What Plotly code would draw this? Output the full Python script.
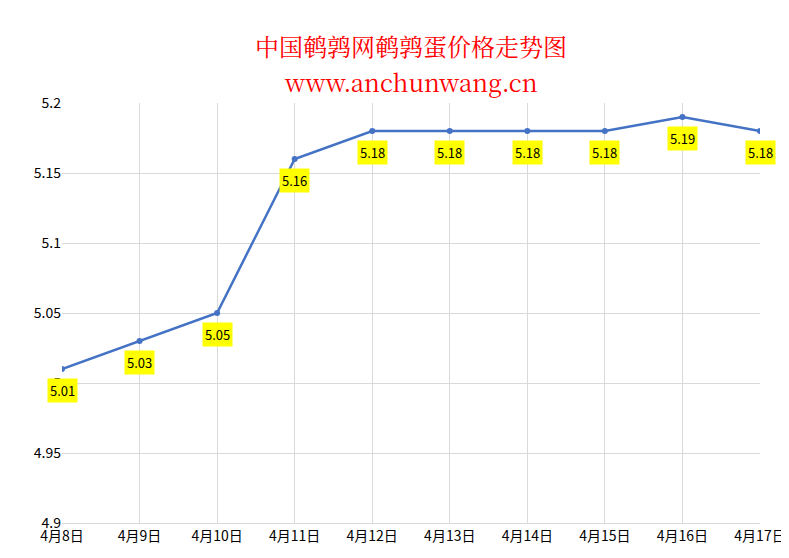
import plotly.graph_objects as go

dates = ["4月8日","4月9日","4月10日","4月11日","4月12日","4月13日","4月14日","4月15日","4月16日","4月17日"]
prices = [5.01,5.03,5.05,5.16,5.18,5.18,5.18,5.18,5.19,5.18]
yticks = [4.9,4.95,5,5.05,5.1,5.15,5.2]
ytick_text = ["4.9","4.95","5","5.05","5.1","5.15","5.2"]
title_lines = ["中国鹌鹑网鹌鹑蛋价格走势图", "www.anchunwang.cn"]

fig = go.Figure(go.Scatter(x=dates, y=prices, mode="lines+markers",
    line=dict(color="#4472C4", width=2.5), marker=dict(size=6, color="#4472C4")))

for d, p in zip(dates, prices):
    fig.add_annotation(x=d, y=p, text=f"{p:.2f}", showarrow=False, yshift=-21,
        bgcolor="#FFFF00", font=dict(size=13, color="#000", family="Noto Sans CJK SC"), borderpad=2)

serif = "Noto Serif CJK SC, Liberation Serif, serif"
fig.add_annotation(xref="paper", yref="paper", x=0.5, y=1, yshift=77, text=title_lines[0],
    showarrow=False, font=dict(size=24, color="#FF0000", family=serif))
fig.add_annotation(xref="paper", yref="paper", x=0.5, y=1, yshift=41, text=title_lines[1],
    showarrow=False, font=dict(size=24, color="#FF0000", family=serif))

fig.update_layout(
    width=789, height=558, paper_bgcolor="white", plot_bgcolor="white",
    margin=dict(l=54, r=37, t=95, b=43, autoexpand=False), showlegend=False,
    xaxis=dict(type="category", range=[0, 9], showgrid=True, gridcolor="#D9D9D9", automargin=False,
               showline=True, linecolor="#D9D9D9", ticks="", tickfont=dict(size=14, color="#000", family="Noto Sans CJK SC")),
    yaxis=dict(range=[4.9, 5.2], tickvals=yticks, ticktext=ytick_text, showgrid=True, gridcolor="#D9D9D9",
               automargin=False, zeroline=False, showline=False,
               tickfont=dict(size=14, color="#000", family="Noto Sans CJK SC")),
)
fig.write_html("out.html")
